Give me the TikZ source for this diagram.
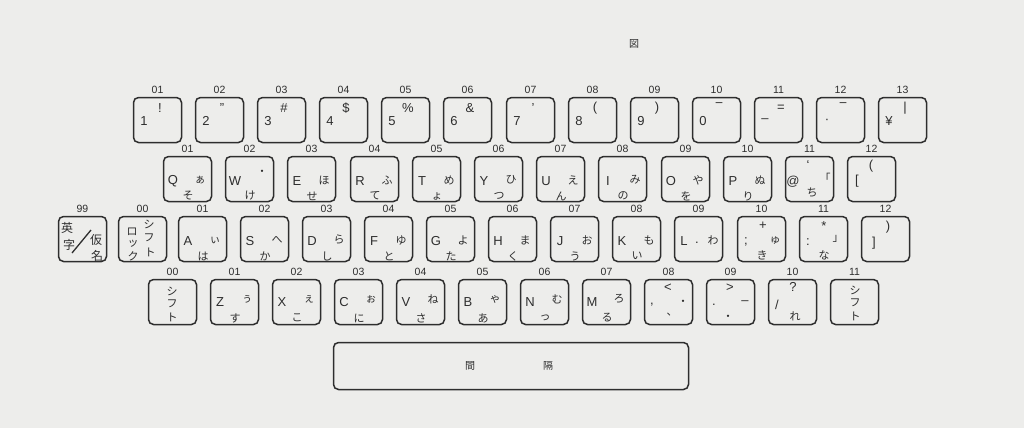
\documentclass[tikz,border=0pt]{standalone}
\usepackage{fontspec}
\setmainfont{Liberation Sans}
\newfontfamily\jp{Noto Sans CJK JP}
\newfontfamily\dv{DejaVu Sans}
\definecolor{ink}{HTML}{2E2E2E}
\definecolor{paper}{HTML}{EDEDEB}
\tikzset{
 kbox/.style={draw=ink, line width=1.5pt, rounded corners=5pt, minimum width=48pt, minimum height=45pt, inner sep=0pt},
 numl/.style={font=\fontsize{10.5}{10.5}\selectfont, text=ink, inner sep=0pt},
 lat/.style={font=\fontsize{13}{13}\selectfont, text=ink, inner sep=0pt},
 jp/.style={font=\jp\fontsize{11}{11}\selectfont, text=ink, inner sep=0pt},
 jpb/.style={font=\jp\fontsize{12}{12}\selectfont, text=ink, inner sep=0pt},
}
\newcommand\kb[4]{\node[kbox] (#1) at (#2+24.5,#3+23) {};\node[numl] (#1-n) at (#2+24.5,#3-7) {#4};}
\newcommand\rk[5]{\kb{#1}{#2}{97}{#3}\node[lat] (#1-a) at (#2+11,121) {#4};\node[lat] (#1-b) at (#2+27,108) {#5};}
\newcommand\kk[7]{\kb{#1}{#2}{#3}{#4}\node[lat] (#1-a) at (#2+10,#3+\ly) {#5};\node[jp] (#1-b) at (#2+37,#3+\ry) {#6};\node[jp] (#1-c) at (#2+25,#3+\by) {#7};}
\begin{document}
\begin{tikzpicture}[x=1pt,y=-1pt]
\fill[paper] (0,0) rectangle (1024,428);
\useasboundingbox (0,0) rectangle (1024,428);
\node[jp, font=\jp\fontsize{10}{10}\selectfont] (fig) at (634,44) {図};
% row 1
\rk{k1}{133}{01}{1}{!}
\rk{k2}{195}{02}{2}{"}
\rk{k3}{257}{03}{3}{\#}
\rk{k4}{319}{04}{4}{\$}
\rk{k5}{381}{05}{5}{\%}
\rk{k6}{443}{06}{6}{\&}
\rk{k7}{506}{07}{7}{'}
\rk{k8}{568}{08}{8}{(}
\rk{k9}{630}{09}{9}{)}
\rk{k10}{692}{10}{0}{\dv ‾}
\rk{k11}{754}{11}{–}{=}
\rk{k12}{816}{12}{·}{\dv ‾}
\rk{k13}{878}{13}{¥}{|}
% row 2
\def\ly{25}\def\ry{24}\def\by{40}
\kk{q}{163}{156}{01}{Q}{ぁ}{そ}
\kb{w}{225}{156}{02}
\node[lat] (w-a) at (235,181) {W};
\node[jp] (w-b) at (262,173) {・};
\node[jp] (w-c) at (250,196) {け};
\kk{e}{287}{156}{03}{E}{ほ}{せ}
\kk{r}{350}{156}{04}{R}{ふ}{て}
\kk{t}{412}{156}{05}{T}{め}{ょ}
\kk{y}{474}{156}{06}{Y}{ひ}{つ}
\kk{u}{536}{156}{07}{U}{え}{ん}
\kk{i}{598}{156}{08}{I}{み}{の}
\kk{o}{661}{156}{09}{O}{や}{を}
\kk{p}{723}{156}{10}{P}{ぬ}{り}
\kb{at}{785}{156}{11}
\node[lat] (at-a) at (793,182) {@};
\node[lat] (at-t) at (808,165) {`};
\node[jp] (at-b) at (825,178) {「};
\node[jp] (at-c) at (812,193) {ち};
\kb{lb}{847}{156}{12}
\node[lat] (lb-a) at (857,181) {[};
\node[lat] (lb-b) at (871,166) {(};
% row 3
\kb{eika}{58}{216}{99}
\node[jpb] (eika-1) at (67,228) {英};
\node[jpb] (eika-2) at (69,245) {字};
\node[jpb] (eika-3) at (96,240) {仮};
\node[jpb] (eika-4) at (97,256) {名};
\draw[ink, line width=1.3pt] (72,253) -- (91,230);
\kb{lock}{118}{216}{00}
\node[jp] (lock-1) at (132,232) {ロ};
\node[jp] (lock-2) at (133,244) {ッ};
\node[jp] (lock-3) at (133,256) {ク};
\node[jp] (lock-4) at (149,224) {シ};
\node[jp] (lock-5) at (149,238) {フ};
\node[jp] (lock-6) at (150,252) {ト};
\kk{a}{178}{216}{01}{A}{ぃ}{は}
\kk{s}{240}{216}{02}{S}{へ}{か}
\kk{d}{302}{216}{03}{D}{ら}{し}
\kk{f}{364}{216}{04}{F}{ゆ}{と}
\kk{g}{426}{216}{05}{G}{よ}{た}
\kk{h}{488}{216}{06}{H}{ま}{く}
\kk{j}{550}{216}{07}{J}{お}{う}
\kk{k}{612}{216}{08}{K}{も}{い}
\kb{l}{674}{216}{09}
\node[lat] (l-a) at (684,241) {L};
\node[lat] (l-d) at (697,243) {.};
\node[jp] (l-b) at (713,240) {わ};
\kb{sc}{737}{216}{10}
\node[lat] (sc-a) at (746,242) {;};
\node[lat] (sc-t) at (763,226) {+};
\node[jp] (sc-b) at (775,241) {ゅ};
\node[jp] (sc-c) at (762,255) {き};
\kb{co}{799}{216}{11}
\node[lat] (co-a) at (808,242) {:};
\node[lat] (co-t) at (824,226) {*};
\node[jp] (co-b) at (838,239) {」};
\node[jp] (co-c) at (824,255) {な};
\kb{rb}{861}{216}{12}
\node[lat] (rb-a) at (874,243) {]};
\node[lat] (rb-b) at (888,227) {)};
% row 4
\def\ly{23}\def\ry{20}\def\by{39}
\kb{lsh}{148}{279}{00}
\node[jp] (lsh-1) at (172,291) {シ};
\node[jp] (lsh-2) at (172,304) {フ};
\node[jp] (lsh-3) at (172,317) {ト};
\kk{z}{210}{279}{01}{Z}{ぅ}{す}
\kk{x}{272}{279}{02}{X}{ぇ}{こ}
\kk{c}{334}{279}{03}{C}{ぉ}{に}
\kk{v}{396}{279}{04}{V}{ね}{さ}
\kk{b}{458}{279}{05}{B}{ゃ}{あ}
\kk{n}{520}{279}{06}{N}{む}{っ}
\kk{m}{582}{279}{07}{M}{ろ}{る}
\kb{lt}{644}{279}{08}
\node[lat] (lt-t) at (668,288) {<};
\node[lat] (lt-a) at (652,305) {,};
\node[jp] (lt-b) at (683,303) {・};
\node[jp] (lt-c) at (672,315) {、};
\kb{gt}{706}{279}{09}
\node[lat] (gt-t) at (730,288) {>};
\node[lat] (gt-a) at (714,305) {.};
\node[lat] (gt-b) at (745,303) {–};
\node[jp] (gt-c) at (728,318) {・};
\kb{qm}{768}{279}{10}
\node[lat] (qm-t) at (793,287) {?};
\node[lat] (qm-a) at (777,305) {/};
\node[jp] (qm-c) at (795,316) {れ};
\kb{rsh}{830}{279}{11}
\node[jp] (rsh-1) at (855,290) {シ};
\node[jp] (rsh-2) at (855,303) {フ};
\node[jp] (rsh-3) at (855,316) {ト};
% space bar
\node[kbox, minimum width=355pt, minimum height=47pt] (space) at (511,366) {};
\node[jp, font=\jp\fontsize{10}{10}\selectfont] (sp-1) at (470,366) {間};
\node[jp, font=\jp\fontsize{10}{10}\selectfont] (sp-2) at (548,366) {隔};
\end{tikzpicture}
\end{document}
